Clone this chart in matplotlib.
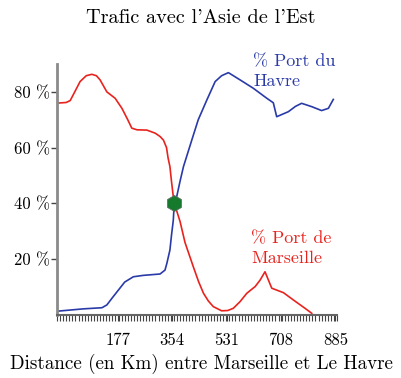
import matplotlib.pyplot as plt
from matplotlib.ticker import MultipleLocator, FixedLocator

plt.rcParams["font.family"] = "serif"
plt.rcParams["font.serif"] = ["cmr10", "DejaVu Serif"]
plt.rcParams["axes.unicode_minus"] = False
plt.rcParams["axes.formatter.use_mathtext"] = True

# Share of traffic (%) along the Marseille - Le Havre axis (km)
marseille_km = [-15, 10, 23, 40, 55, 75, 93, 108, 120, 142, 169, 191, 210, 223,
                240, 272, 299, 315, 326, 336, 341, 347, 352, 358, 361, 370, 380,
                396, 423, 440, 456, 472, 488, 515, 535, 553, 575, 597, 624, 640,
                656, 678, 716, 748, 786, 808]
marseille_pct = [76.0, 76.2, 76.9, 80.5, 83.7, 85.8, 86.3, 85.8, 84.3, 80.0, 77.7,
                 74.1, 70.0, 67.0, 66.4, 66.3, 65.2, 64.0, 62.7, 60.0, 56.3, 53.2,
                 48.0, 42.4, 40.2, 37.0, 33.5, 26.0, 17.3, 12.0, 7.8, 5.0, 3.0,
                 1.5, 1.6, 2.4, 4.8, 7.8, 10.2, 12.5, 15.5, 9.6, 8.0, 5.4, 2.4,
                 0.6]

havre_km = [-15, 66, 126, 142, 160, 180, 200, 228, 260, 315, 331, 337, 342, 347,
            352, 358, 361, 369, 380, 391, 418, 439, 467, 494, 515, 537, 575, 618,
            662, 683, 694, 732, 755, 775, 808, 840, 862, 878]
havre_pct = [1.4, 2.2, 2.6, 3.6, 6.2, 9.0, 11.8, 13.7, 14.2, 14.7, 16.1, 18.5,
             20.9, 23.3, 28.5, 34.0, 40.0, 42.4, 48.0, 53.2, 62.7, 70.0, 77.1,
             83.7, 85.8, 86.9, 84.3, 81.3, 77.7, 76.1, 71.1, 72.9, 74.8, 75.9,
             74.7, 73.3, 74.1, 77.3]

crossing = (361, 40.2)

x_ticks = [177, 354, 531, 708, 885]
y_ticks = [20, 40, 60, 80]

red = "#e8231e"
blue = "#2a3aa8"

fig = plt.figure(figsize=(4.02, 3.78), dpi=100)
ax = fig.add_axes([0.1418, 0.1667, 0.6965, 0.664])

ax.plot(marseille_km, marseille_pct, color=red, lw=1.2)
ax.plot(havre_km, havre_pct, color=blue, lw=1.2)
ax.plot(*crossing, marker="h", ms=11.5, color="#157a2c", mec="#6a6a6a", mew=0.6)

ax.set_xlim(-20, 890)
ax.set_ylim(0, 90)

ax.xaxis.set_major_locator(FixedLocator(x_ticks))
ax.xaxis.set_minor_locator(MultipleLocator(10))
ax.tick_params(axis="x", which="minor", length=4, width=0.8, color="#444444")
ax.tick_params(axis="x", which="major", length=4, width=0.8, color="#444444",
               labelsize=12, pad=9)
ax.set_xticklabels([str(v) for v in x_ticks])

ax.set_yticks(y_ticks)
ax.set_yticklabels([f"{v} %" for v in y_ticks])
ax.tick_params(axis="y", length=4, width=1, color="#444444", labelsize=12, pad=1)

for side in ["top", "right"]:
    ax.spines[side].set_visible(False)
ax.spines["left"].set_color("#8a8a8a")
ax.spines["left"].set_linewidth(2)
ax.spines["bottom"].set_color("#666666")
ax.spines["bottom"].set_linewidth(1.5)

ax.text(618, 81.0, "% Port du\nHavre", color=blue, fontsize=13,
        linespacing=1.35, va="bottom", ha="left")
ax.text(612, 17.5, "% Port de\nMarseille", color=red, fontsize=13,
        linespacing=1.35, va="bottom", ha="left")

fig.text(0.5, 0.952, "Trafic avec l'Asie de l'Est", ha="center", va="center",
         fontsize=14.6)
fig.text(0.5, 0.038, "Distance (en Km) entre Marseille et Le Havre", ha="center",
         va="center", fontsize=13.7)

fig.savefig("out.png", dpi=100)
